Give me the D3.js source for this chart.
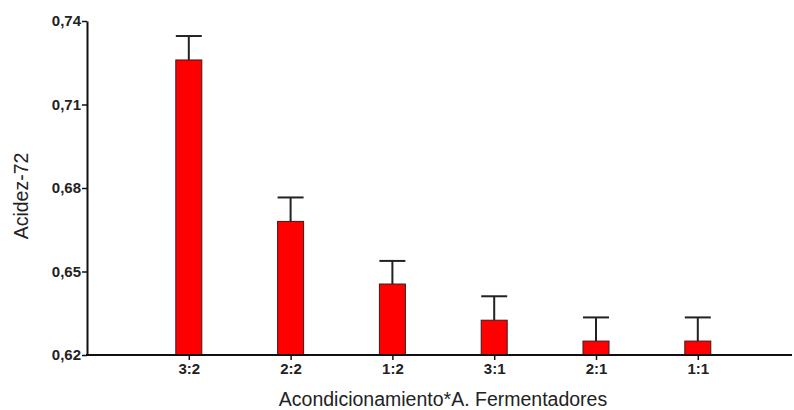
<!DOCTYPE html>
<html>
<head>
<meta charset="utf-8">
<script src="https://cdn.jsdelivr.net/npm/d3@7"></script>
<style>
  html, body { margin: 0; padding: 0; background: #fff; }
  svg { display: block; }
  .tick text { font-family: "Liberation Sans", Arial, sans-serif; font-weight: bold; font-size: 15px; fill: #222; }
  .title { font-family: "Liberation Sans", Arial, sans-serif; font-size: 19.5px; fill: #222; }
</style>
</head>
<body>
<svg id="chart" width="794" height="410"></svg>
<script>
// Acidity at 72 h by conditioning x fermenting agent combination
const categories = ["3:2", "2:2", "1:2", "3:1", "2:1", "1:1"];
const means = [0.726, 0.668, 0.6455, 0.6325, 0.625, 0.625];
const errors = [0.0086, 0.0086, 0.0083, 0.0086, 0.0085, 0.0085];
const yTicks = [0.62, 0.65, 0.68, 0.71, 0.74];

const svg = d3.select("#chart");
const plotLeft = 87, plotBottom = 355, plotTop = 21;
const axisEnd = 792;
const barWidth = 26;

const x = d3.scalePoint()
  .domain(categories)
  .range([plotLeft, plotLeft + 7 * 101.8])
  .padding(1);

const y = d3.scaleLinear()
  .domain([0.62, 0.74])
  .range([plotBottom, plotTop]);

const fmt = v => d3.format(".2f")(v).replace(".", ",");

// bars
svg.append("g").selectAll("rect")
  .data(categories)
  .join("rect")
  .attr("x", d => x(d) - barWidth / 2)
  .attr("y", (d, i) => y(means[i]))
  .attr("width", barWidth)
  .attr("height", (d, i) => y(0.62) - y(means[i]))
  .attr("fill", "#ff0000")
  .attr("stroke", "#3a1a1a")
  .attr("stroke-width", 1);

// upper error bars
const err = svg.append("g").attr("stroke", "#222").attr("stroke-width", 2);
err.selectAll("line.stem")
  .data(categories)
  .join("line")
  .attr("class", "stem")
  .attr("x1", d => x(d)).attr("x2", d => x(d))
  .attr("y1", (d, i) => y(means[i]))
  .attr("y2", (d, i) => y(means[i] + errors[i]));
err.selectAll("line.cap")
  .data(categories)
  .join("line")
  .attr("class", "cap")
  .attr("x1", d => x(d) - barWidth / 2).attr("x2", d => x(d) + barWidth / 2)
  .attr("y1", (d, i) => y(means[i] + errors[i]))
  .attr("y2", (d, i) => y(means[i] + errors[i]));

// y axis
const yAxis = svg.append("g")
  .attr("transform", `translate(${plotLeft},0)`)
  .call(d3.axisLeft(y).tickValues(yTicks).tickFormat(fmt).tickSize(5).tickSizeOuter(0).tickPadding(1));
yAxis.select(".domain").attr("stroke", "#111").attr("stroke-width", 2);
yAxis.selectAll(".tick line").attr("stroke", "#111").attr("stroke-width", 1.5);

// x axis
const xAxis = svg.append("g")
  .attr("transform", `translate(0,${plotBottom})`)
  .call(d3.axisBottom(x).tickSize(5).tickSizeOuter(0).tickPadding(3));
xAxis.select(".domain").remove();
xAxis.selectAll(".tick line").attr("stroke", "#111").attr("stroke-width", 1.5);
xAxis.append("line")
  .attr("x1", plotLeft - 1).attr("x2", axisEnd)
  .attr("y1", 0).attr("y2", 0)
  .attr("stroke", "#111").attr("stroke-width", 2);

// axis titles
svg.append("text")
  .attr("class", "title")
  .attr("x", 443).attr("y", 406)
  .attr("text-anchor", "middle")
  .text("Acondicionamiento*A. Fermentadores");

svg.append("text")
  .attr("class", "title")
  .attr("transform", "translate(28,196) rotate(-90)")
  .attr("text-anchor", "middle")
  .text("Acidez-72");
</script>
</body>
</html>
